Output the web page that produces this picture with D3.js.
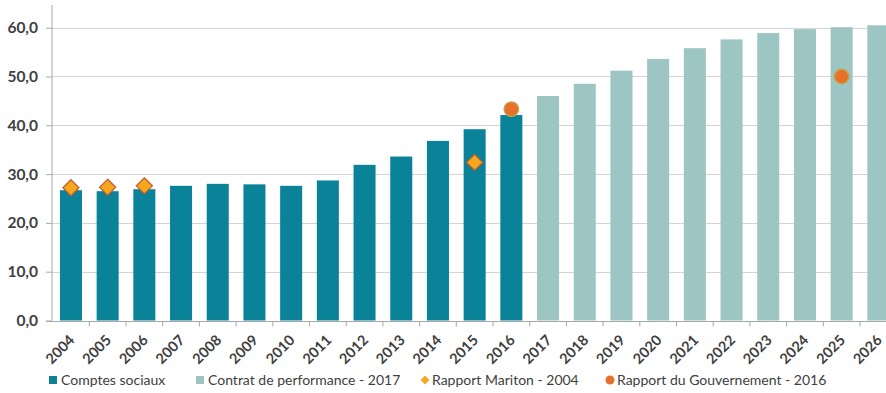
<!DOCTYPE html>
<html>
<head>
<meta charset="utf-8">
<script src="https://cdn.jsdelivr.net/npm/d3@7"></script>
<style>
  html, body { margin: 0; padding: 0; background: #ffffff; }
  svg { display: block; font-family: Lato, "Open Sans", sans-serif; }
</style>
</head>
<body>
<svg id="chart" width="886" height="393"></svg>
<script>
// Years on the horizontal axis
const years = ["2004","2005","2006","2007","2008","2009","2010","2011","2012","2013","2014","2015","2016",
               "2017","2018","2019","2020","2021","2022","2023","2024","2025","2026"];

// Comptes sociaux (2004–2016)
const comptesYears = ["2004","2005","2006","2007","2008","2009","2010","2011","2012","2013","2014","2015","2016"];
const comptesValues = [26.7, 26.5, 26.9, 27.6, 28.0, 27.9, 27.6, 28.7, 31.9, 33.6, 36.8, 39.2, 42.1];

// Contrat de performance - 2017 (2017–2026)
const contratYears = ["2017","2018","2019","2020","2021","2022","2023","2024","2025","2026"];
const contratValues = [46.0, 48.5, 51.2, 53.6, 55.8, 57.6, 58.9, 59.7, 60.1, 60.5];

// Rapport Mariton - 2004
const maritonYears = ["2004","2005","2006","2015"];
const maritonValues = [27.2, 27.3, 27.6, 32.4];

// Rapport du Gouvernement - 2016
const gouvYears = ["2016","2025"];
const gouvValues = [43.3, 50.0];

// Value axis ticks
const yTicks = [0, 10, 20, 30, 40, 50, 60];

const legendLabels = ["Comptes sociaux", "Contrat de performance - 2017", "Rapport Mariton - 2004", "Rapport du Gouvernement - 2016"];

const colors = {
  comptes: "#0a8399",
  contrat: "#9cc5c3",
  diamondFill: "#f5a71e",
  diamondStroke: "#c4582b",
  circleFill: "#e8702b",
  circleStroke: "#c7a348",
  grid: "#d4d4d4",
  axis: "#a8a8a8",
  text: "#404040"
};

const svg = d3.select("#chart");

const x = d3.scaleBand()
  .domain(years)
  .range([52.6, 896.7])
  .paddingInner(0.4)
  .paddingOuter(0.2);

const y = d3.scaleLinear()
  .domain([0, 65])
  .range([320.5, 3.3]);

const axisX = 52;
const step = x.step();
const fmt = v => d3.format(".1f")(v).replace(".", ",");

// Horizontal gridlines
svg.append("g")
  .selectAll("line")
  .data(yTicks.filter(d => d > 0))
  .join("line")
  .attr("x1", axisX)
  .attr("x2", 886)
  .attr("y1", d => Math.round(y(d)) + 0.5)
  .attr("y2", d => Math.round(y(d)) + 0.5)
  .attr("stroke", colors.grid)
  .attr("stroke-width", 1.2);

// Bars
svg.append("g")
  .selectAll("rect")
  .data(comptesYears.map((yr, i) => ({ yr, v: comptesValues[i] })))
  .join("rect")
  .attr("x", d => x(d.yr))
  .attr("width", x.bandwidth())
  .attr("y", d => y(d.v))
  .attr("height", d => y(0) - y(d.v))
  .attr("fill", colors.comptes);

svg.append("g")
  .selectAll("rect")
  .data(contratYears.map((yr, i) => ({ yr, v: contratValues[i] })))
  .join("rect")
  .attr("x", d => x(d.yr))
  .attr("width", x.bandwidth())
  .attr("y", d => y(d.v))
  .attr("height", d => y(0) - y(d.v))
  .attr("fill", colors.contrat);

// Y axis
const yAxis = d3.axisLeft(y)
  .tickValues(yTicks)
  .tickSize(6)
  .tickPadding(8)
  .tickFormat(fmt);

const gy = svg.append("g")
  .attr("transform", `translate(${axisX},0)`)
  .call(yAxis);
gy.select(".domain").attr("stroke", colors.axis).attr("d", `M0,${y(0)}V5`);
gy.selectAll(".tick line").attr("stroke", colors.axis);
gy.selectAll(".tick text")
  .attr("fill", colors.text)
  .attr("font-size", 15.5)
  .attr("font-weight", 700)
  .attr("font-family", "Lato, sans-serif");

// X axis: baseline, tick marks between categories, rotated labels
const base = Math.round(y(0)) + 0.5;
const gx = svg.append("g");
gx.append("line")
  .attr("x1", axisX - 6).attr("x2", 886)
  .attr("y1", base).attr("y2", base)
  .attr("stroke", colors.axis);
gx.selectAll("line.tk")
  .data(years)
  .join("line")
  .attr("class", "tk")
  .attr("x1", d => x(d) + x.bandwidth() / 2 + step / 2)
  .attr("x2", d => x(d) + x.bandwidth() / 2 + step / 2)
  .attr("y1", base).attr("y2", base + 5)
  .attr("stroke", colors.axis);
gx.selectAll("text")
  .data(years)
  .join("text")
  .attr("transform", d => `translate(${x(d) + x.bandwidth() / 2 + 1},${base + 16}) rotate(-45)`)
  .attr("text-anchor", "end")
  .attr("dy", "0.35em")
  .attr("fill", colors.text)
  .attr("font-size", 14.5)
  .attr("font-weight", 700)
  .text(d => d);

// Markers: Rapport Mariton (diamonds)
const diamond = d3.symbol().type(d3.symbolDiamond2).size(165);
svg.append("g")
  .selectAll("path")
  .data(maritonYears.map((yr, i) => ({ yr, v: maritonValues[i] })))
  .join("path")
  .attr("d", diamond)
  .attr("transform", d => `translate(${x(d.yr) + x.bandwidth() / 2},${y(d.v)})`)
  .attr("fill", colors.diamondFill)
  .attr("stroke", colors.diamondStroke)
  .attr("stroke-width", 1.2);

// Markers: Rapport du Gouvernement (circles)
svg.append("g")
  .selectAll("circle")
  .data(gouvYears.map((yr, i) => ({ yr, v: gouvValues[i] })))
  .join("circle")
  .attr("cx", d => x(d.yr) + x.bandwidth() / 2)
  .attr("cy", d => y(d.v))
  .attr("r", 7.2)
  .attr("fill", colors.circleFill)
  .attr("stroke", colors.circleStroke)
  .attr("stroke-width", 1.4);

// Legend
const legendY = 380;
const lg = svg.append("g").attr("font-size", 14).attr("fill", colors.text);
const items = [
  { x: 49, kind: "square", color: colors.comptes, label: legendLabels[0] },
  { x: 196, kind: "square", color: colors.contrat, label: legendLabels[1] },
  { x: 424, kind: "diamond", label: legendLabels[2] },
  { x: 609, kind: "circle", label: legendLabels[3] }
];
items.forEach(it => {
  if (it.kind === "square") {
    lg.append("rect").attr("x", it.x).attr("y", legendY - 4).attr("width", 8).attr("height", 8).attr("fill", it.color);
  } else if (it.kind === "diamond") {
    lg.append("path").attr("d", d3.symbol().type(d3.symbolDiamond2).size(50))
      .attr("transform", `translate(${it.x + 1},${legendY})`).attr("fill", colors.diamondFill);
  } else {
    lg.append("circle").attr("cx", it.x + 1).attr("cy", legendY).attr("r", 4.5).attr("fill", colors.circleFill);
  }
  lg.append("text")
    .attr("x", it.x + (it.kind === "square" ? 12 : 8))
    .attr("y", legendY)
    .attr("dy", "0.35em")
    .text(it.label);
});
</script>
</body>
</html>
